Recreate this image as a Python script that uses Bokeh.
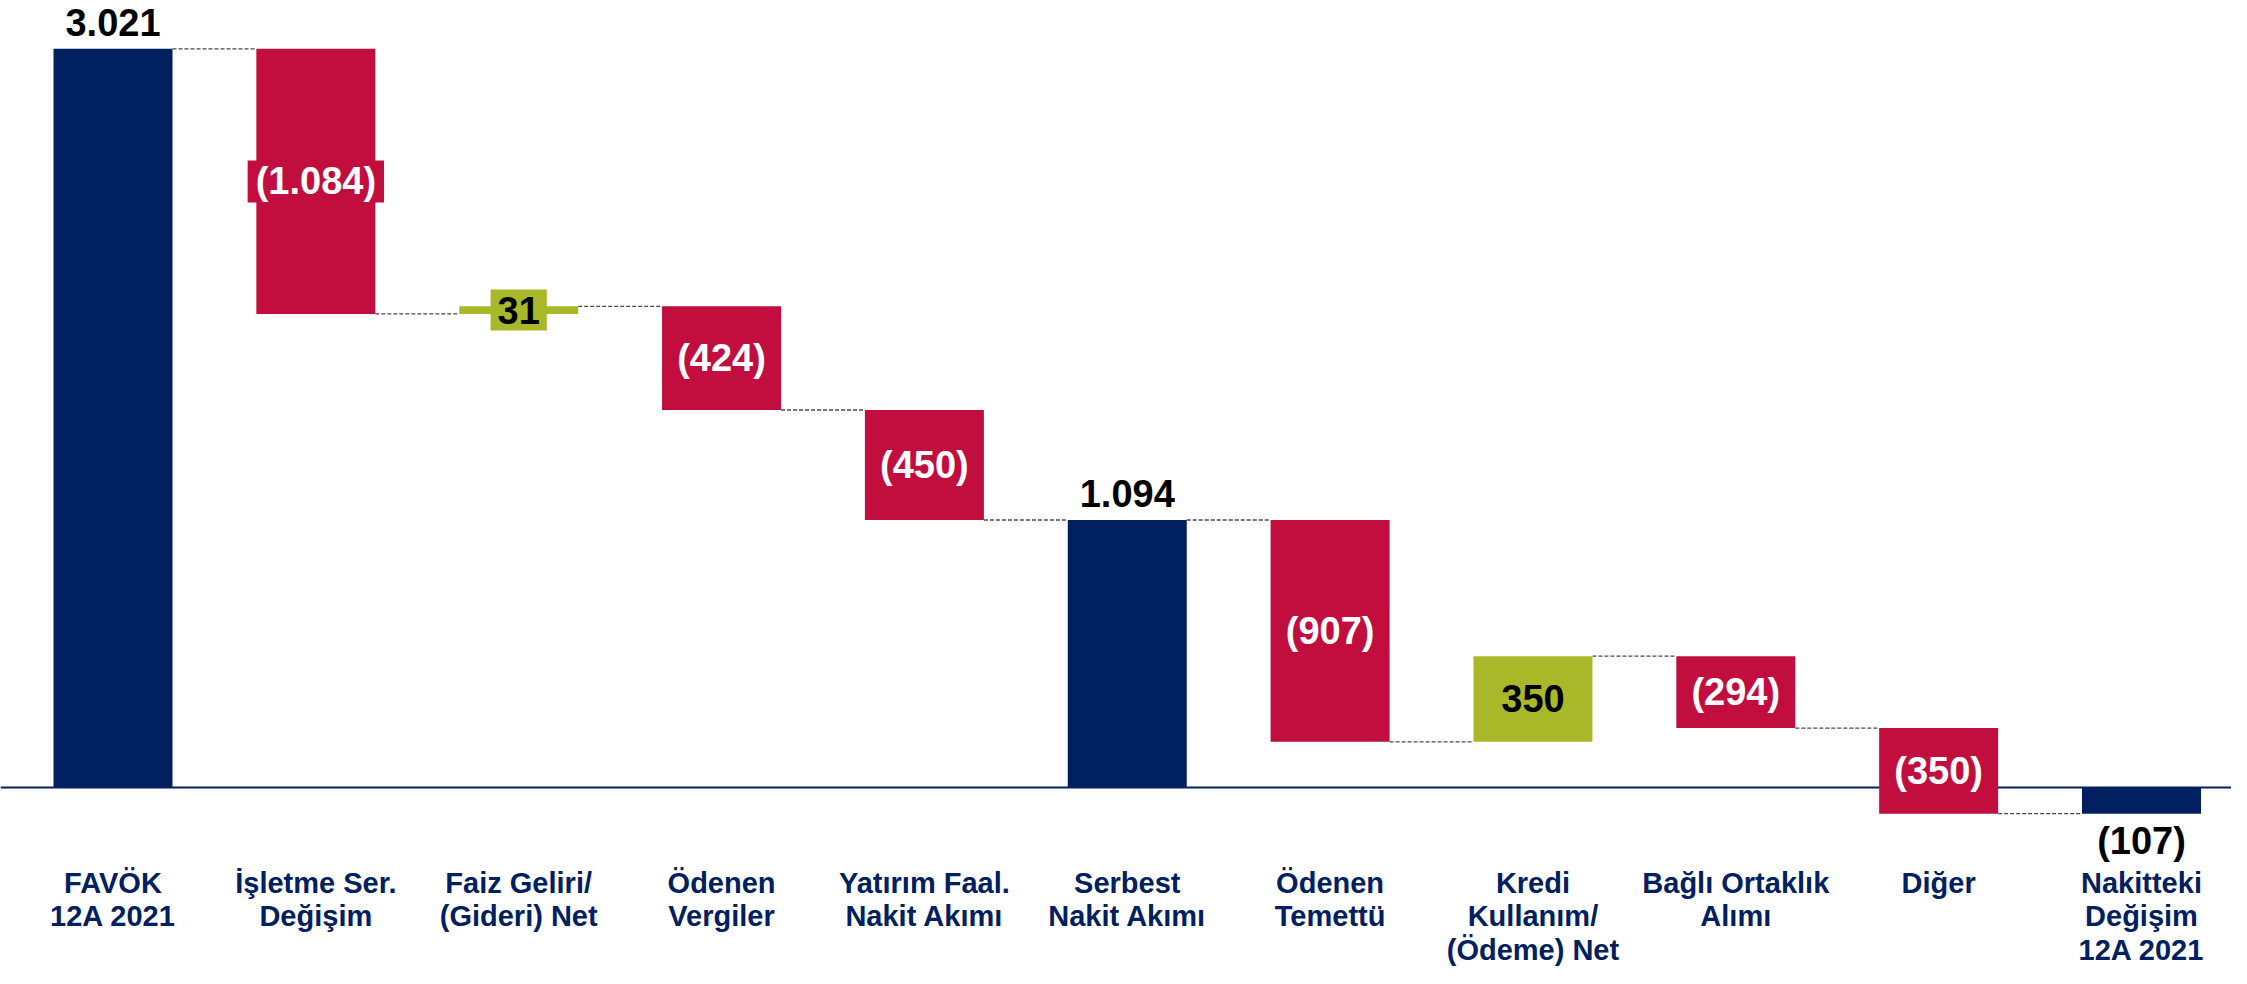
from bokeh.plotting import figure
from bokeh.models import ColumnDataSource, Range1d, Span
from bokeh.core.properties import value
from bokeh.embed import file_html
from bokeh.resources import INLINE

# ---------------- data ----------------
categories = [
    "FAVÖK\n12A 2021",
    "İşletme Ser.\nDeğişim",
    "Faiz Geliri/\n(Gideri) Net",
    "Ödenen\nVergiler",
    "Yatırım Faal.\nNakit Akımı",
    "Serbest\nNakit Akımı",
    "Ödenen\nTemettü",
    "Kredi\nKullanım/\n(Ödeme) Net",
    "Bağlı Ortaklık\nAlımı",
    "Diğer",
    "Nakitteki\nDeğişim\n12A 2021",
]
values = [3021, -1084, 31, -424, -450, 1094, -907, 350, -294, -350, -107]
kinds = ["total", "delta", "delta", "delta", "delta", "total",
         "delta", "delta", "delta", "delta", "total"]

NAVY = "#002060"
RED = "#C20E3E"
GREEN = "#A9B829"
FONT = "Liberation Sans"


def fmt(v):
    s = f"{abs(v):,}".replace(",", ".")
    return f"({s})" if v < 0 else s


# ---------------- layout ----------------
W, H = 2231, 968
spacing_px = 202.85
x0 = -112.5 / spacing_px
x1 = x0 + W / spacing_px
ppu = 0.2445                      # pixels per unit
zero_px = 787.0                   # zero line from frame top
y1 = zero_px / ppu
y0 = -(H - zero_px) / ppu
bar_w = 119 / spacing_px


def dy(px):
    return px / ppu


# ---------------- waterfall geometry ----------------
xs, bottoms, tops, colors, ends = [], [], [], [], []
running = 0
for i, (v, k) in enumerate(zip(values, kinds)):
    xs.append(i)
    if k == "total":
        b, t = 0, v
        running = v
        colors.append(NAVY)
    else:
        b, t = running, running + v
        running += v
        colors.append(RED if v < 0 else GREEN)
    bottoms.append(b)
    tops.append(t)
    ends.append(running)

p = figure(width=W, height=H, x_range=Range1d(x0, x1), y_range=Range1d(y0, y1),
           output_backend="svg", toolbar_location=None, min_border=0,
           x_axis_location=None, y_axis_location=None)
p.grid.visible = False
p.outline_line_color = None
p.background_fill_color = "white"
p.border_fill_color = "white"

# baseline
p.add_layout(Span(location=0, dimension="width", line_color=NAVY,
                  line_width=2, level="underlay"))

# connectors
cx0 = [xs[i] + bar_w / 2 for i in range(len(xs) - 1)]
cx1 = [xs[i + 1] - bar_w / 2 for i in range(len(xs) - 1)]
cy = [ends[i] for i in range(len(xs) - 1)]
p.segment(x0=cx0, x1=cx1, y0=cy, y1=cy, line_color="#4a4a4a",
          line_width=1.3, line_dash="4 2")

# bars
src = ColumnDataSource(dict(x=xs, bottom=bottoms, top=tops, color=colors))
p.vbar(x="x", width=bar_w, bottom="bottom", top="top", source=src,
       fill_color="color", line_color=None)

# value labels
up_x, up_y, up_t = [], [], []
dn_x, dn_y, dn_t = [], [], []
red_x, red_y, red_t = [], [], []
grn_x, grn_y, grn_t = [], [], []
for i, (v, k) in enumerate(zip(values, kinds)):
    if k == "total":
        if v >= 0:
            up_x.append(i); up_y.append(tops[i] + dy(13)); up_t.append(fmt(v))
        else:
            dn_x.append(i); dn_y.append(tops[i] - dy(6)); dn_t.append(fmt(v))
    else:
        mid = (bottoms[i] + tops[i]) / 2
        if v < 0:
            red_x.append(i); red_y.append(mid); red_t.append(fmt(v))
        else:
            grn_x.append(i); grn_y.append(mid); grn_t.append(fmt(v))

common = dict(text_font=value(FONT), text_font_style="bold",
              text_font_size="38px", text_align="center")
p.text(x=up_x, y=up_y, text=up_t, text_color="black",
       text_baseline="bottom", **common)
p.text(x=dn_x, y=dn_y, text=dn_t, text_color="black",
       text_baseline="top", **common)
p.text(x=red_x, y=red_y, text=red_t, text_color="white",
       text_baseline="middle", background_fill_color=RED,
       padding=(8, 0), **common)
p.text(x=grn_x, y=grn_y, text=grn_t, text_color="black",
       text_baseline="middle", background_fill_color=GREEN,
       padding=(7, 7), **common)

# category labels
p.text(x=xs, y=[-dy(79)] * len(xs), text=categories, text_font=value(FONT),
       text_font_style="bold", text_font_size="29px", text_color=NAVY,
       text_align="center", text_baseline="top", text_line_height=1.06)

open("out.html", "w").write(file_html(p, INLINE))
